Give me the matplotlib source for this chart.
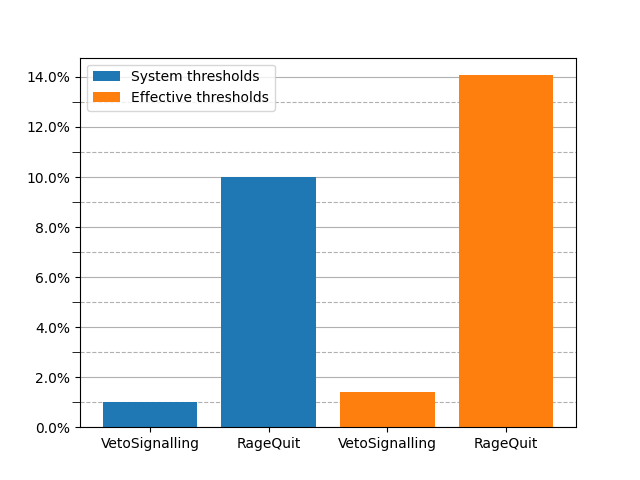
import matplotlib.pyplot as plt
from matplotlib.ticker import PercentFormatter, MultipleLocator

labels = ['VetoSignalling', 'RageQuit', 'VetoSignalling', 'RageQuit']
system_vals = [1.0, 10.0]
effective_vals = [1.4, 14.07]

fig, ax = plt.subplots(figsize=(6.4, 4.8), dpi=100)
ax.set_axisbelow(True)
ax.bar([0, 1], system_vals, color='#1f77b4', label='System thresholds')
ax.bar([2, 3], effective_vals, color='#ff7f0e', label='Effective thresholds')
ax.set_xticks(range(4))
ax.set_xticklabels(labels)
ax.yaxis.set_major_locator(MultipleLocator(2))
ax.yaxis.set_minor_locator(MultipleLocator(1))
ax.yaxis.set_major_formatter(PercentFormatter(decimals=1))
ax.tick_params(axis='y', which='minor', length=6)
ax.grid(axis='y', which='major', linestyle='-', color='#b0b0b0')
ax.grid(axis='y', which='minor', linestyle='--', color='#b0b0b0')
ax.legend(loc='upper left')
fig.savefig('out.png')
